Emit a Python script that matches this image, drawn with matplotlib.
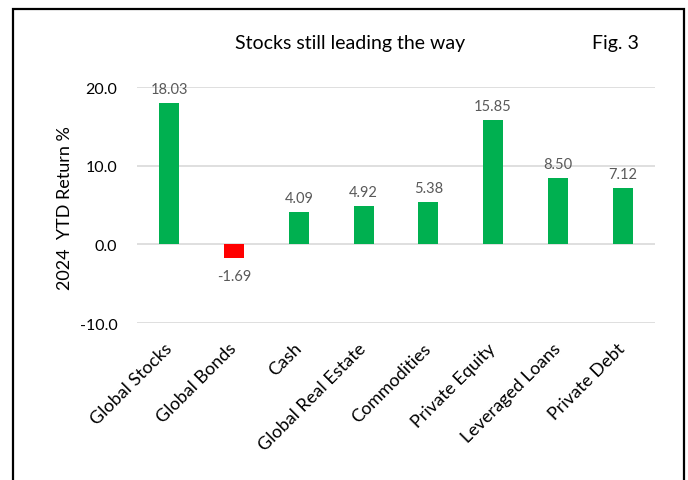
import matplotlib.pyplot as plt
from matplotlib.patches import Rectangle

plt.rcParams['font.family'] = ['Lato', 'DejaVu Sans']

categories = ["Global Stocks", "Global Bonds", "Cash", "Global Real Estate",
              "Commodities", "Private Equity", "Leveraged Loans", "Private Debt"]
returns = [18.03, -1.69, 4.09, 4.92, 5.38, 15.85, 8.50, 7.12]
y_ticks = [-10.0, 0.0, 10.0, 20.0]

GREEN = "#00B050"
RED = "#FF0000"

fig = plt.figure(figsize=(6.88, 4.81), dpi=100)
ax = fig.add_axes([0.199, 0.326, 0.753, 0.491])

x = range(len(categories))
colors = [GREEN if v >= 0 else RED for v in returns]
ax.bar(x, returns, width=0.31, color=colors, zorder=3)

for xi, v in zip(x, returns):
    off = 5 if v >= 0 else -8
    ax.annotate(f"{v:.2f}", (xi, v), xytext=(0, off), textcoords="offset points",
                ha="center", va="bottom" if v >= 0 else "top",
                fontsize=10.5, color="#595959")

ax.set_xlim(-0.5, len(categories) - 0.5)
ax.set_ylim(-10, 20)
ax.set_yticks(y_ticks)
ax.set_yticklabels([f"{t:.1f}" for t in y_ticks], fontsize=11.5)
ax.set_xticks(list(x))
ax.set_xticklabels(categories, rotation=45, ha="right", va="center",
                   rotation_mode="anchor", fontsize=13)
ax.tick_params(axis="both", length=0)
ax.tick_params(axis="x", pad=16)
ax.tick_params(axis="y", pad=14)
ax.grid(axis="y", color="#D9D9D9", linewidth=1.2, zorder=0)
for s in ax.spines.values():
    s.set_visible(False)

ax.set_ylabel("2024  YTD Return %", fontsize=13)
ax.yaxis.set_label_coords(-0.123, 0.49)

fig.text(0.509, 0.91, "Stocks still leading the way", ha="center", va="center",
         fontsize=14)
fig.text(0.894, 0.91, "Fig. 3", ha="center", va="center", fontsize=14)

# frame around the figure, open at the bottom
frame = Rectangle((13 / 688, -0.1), (684 - 13) / 688, 1.1 - 10 / 481,
                  transform=fig.transFigure, fill=False, edgecolor="black",
                  linewidth=1.6, clip_on=False)
fig.patches.append(frame)

fig.savefig("out.png", dpi=100)
